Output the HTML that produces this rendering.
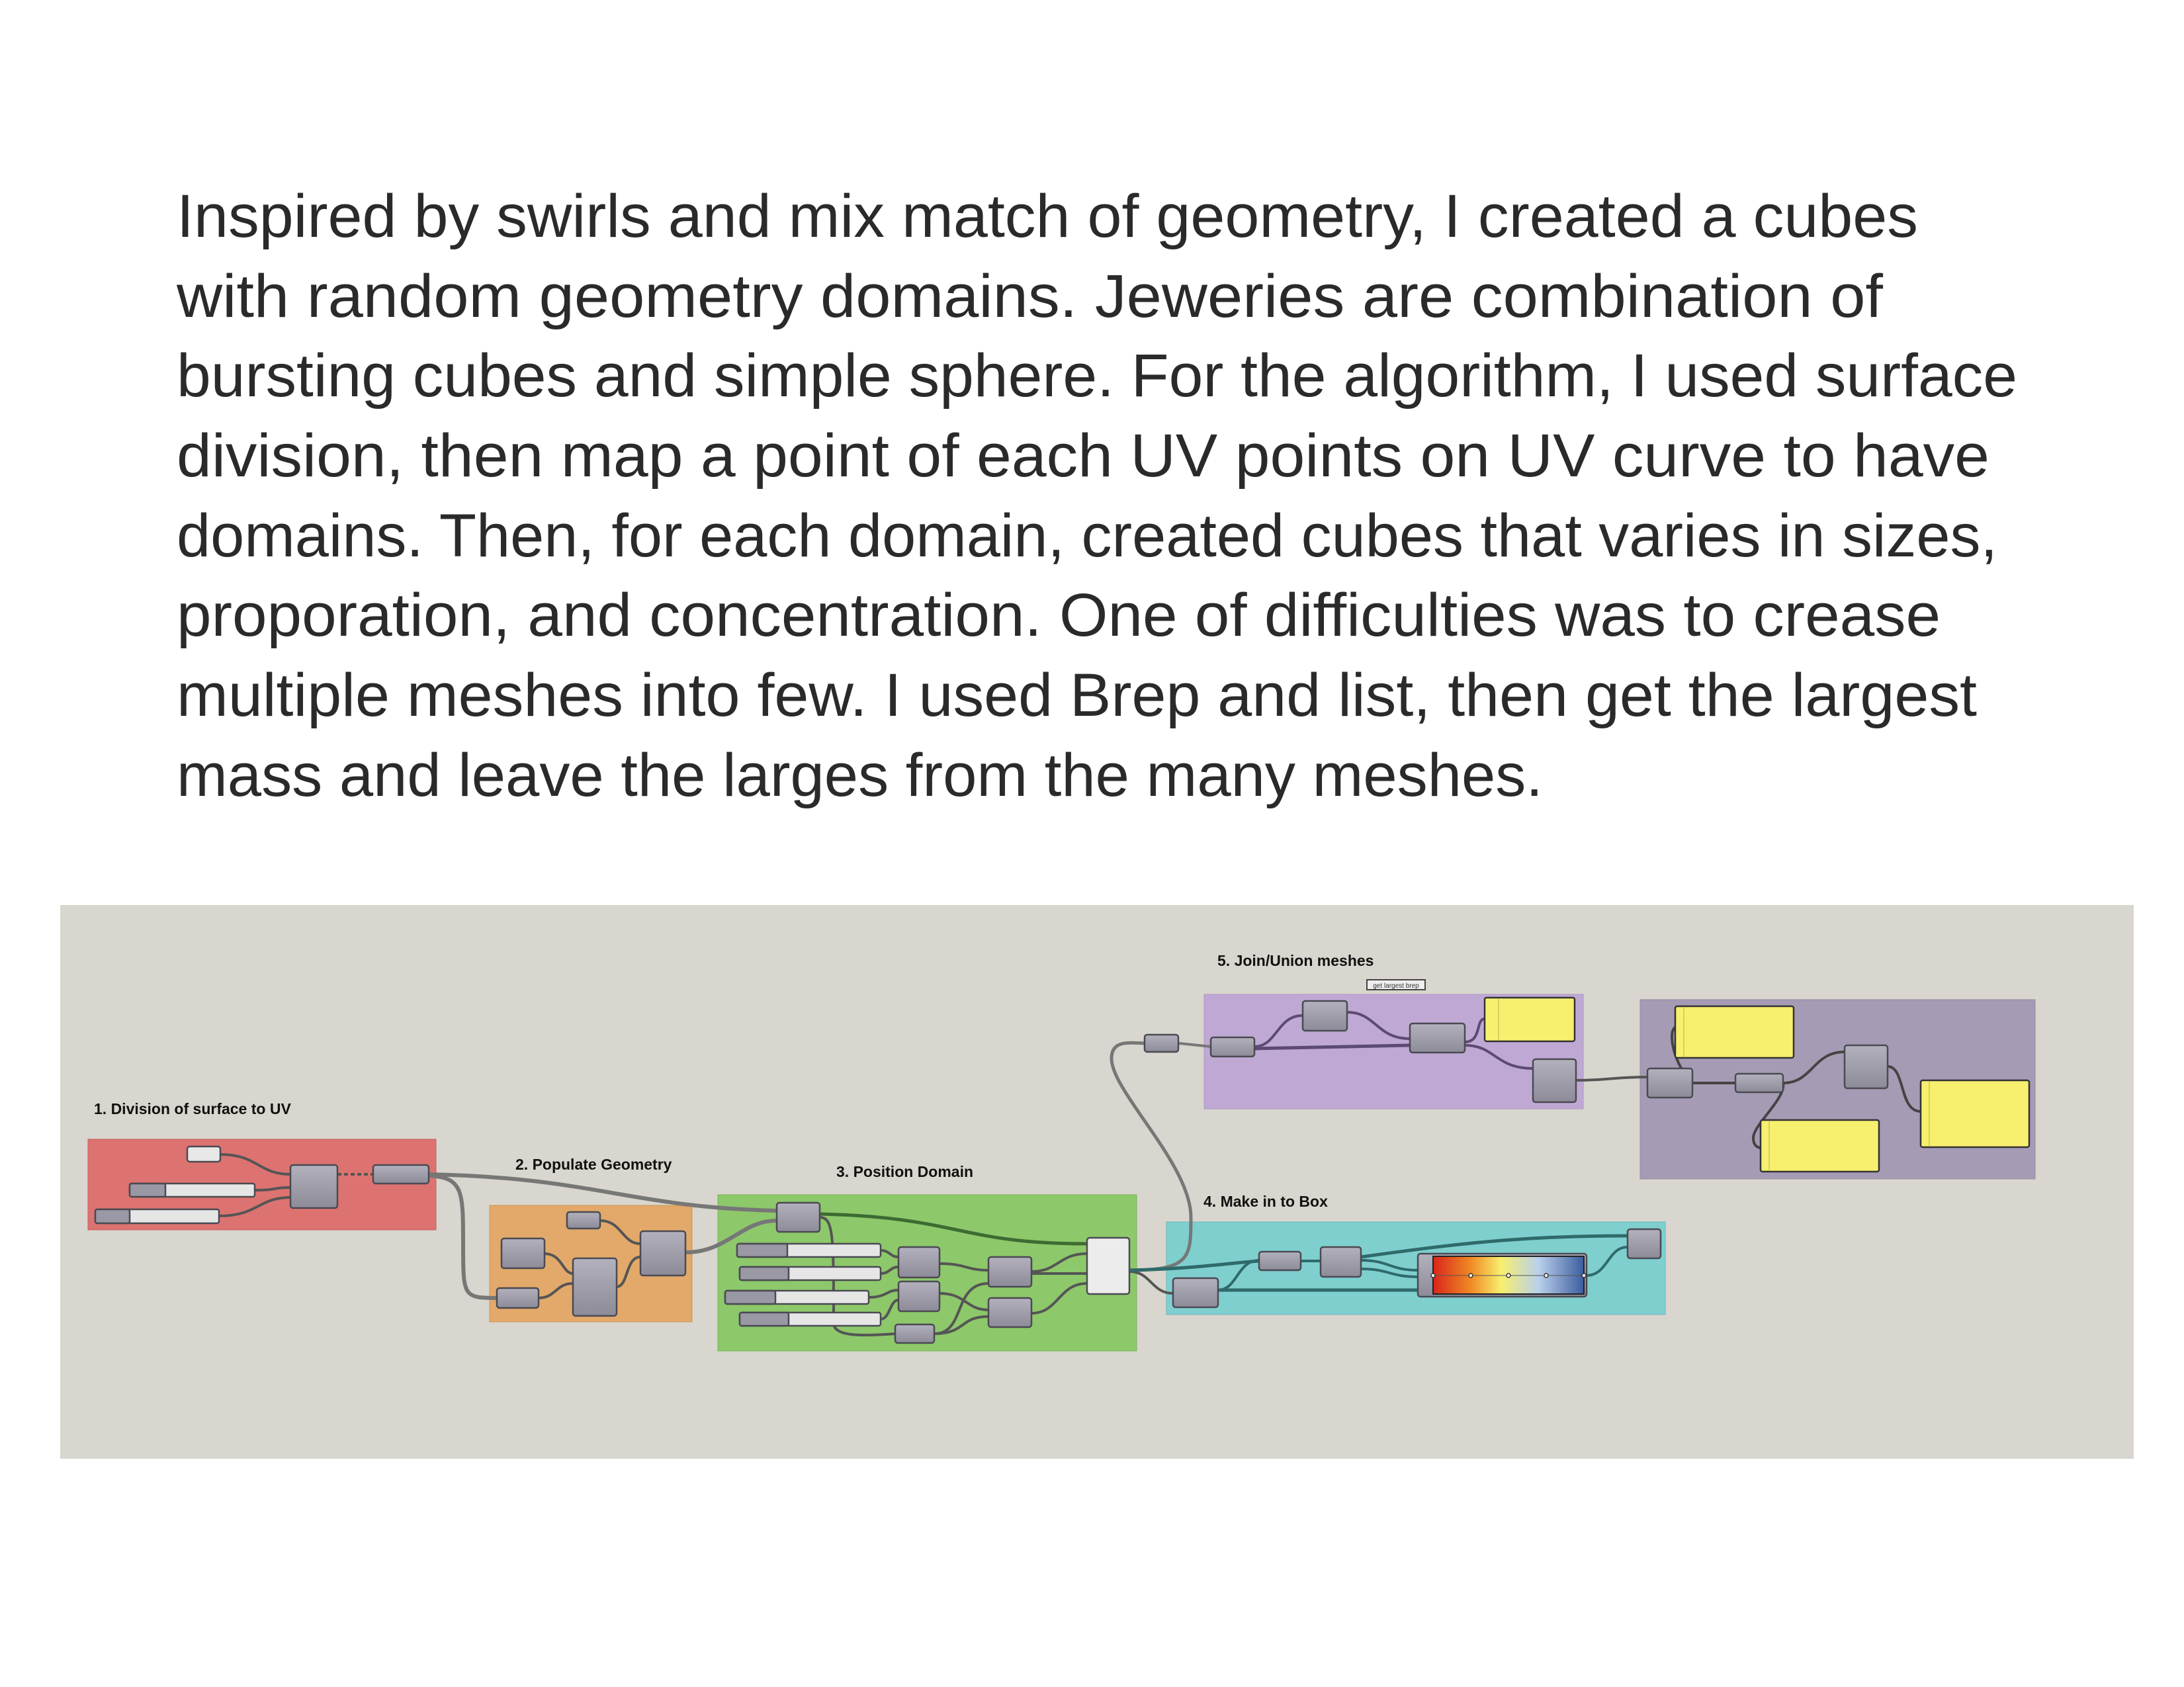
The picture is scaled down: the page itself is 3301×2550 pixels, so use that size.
<!DOCTYPE html>
<html><head><meta charset="utf-8"><style>
html,body{margin:0;padding:0;background:#fff;}
svg{display:block;}
</style></head><body>
<svg width="3301" height="2550" viewBox="0 0 3301 2550" xmlns="http://www.w3.org/2000/svg">
<defs>
<linearGradient id="ng" x1="0" y1="0" x2="0" y2="1"><stop offset="0" stop-color="#b3b1bd"/><stop offset="1" stop-color="#8d8b98"/></linearGradient>
<linearGradient id="hm" x1="0" y1="0" x2="1" y2="0"><stop offset="0" stop-color="#d9261c"/><stop offset="0.25" stop-color="#f08a24"/><stop offset="0.45" stop-color="#f7ef6e"/><stop offset="0.7" stop-color="#b9d0ec"/><stop offset="1" stop-color="#3c5c9e"/></linearGradient>
</defs>
<g font-family="Liberation Sans, sans-serif" font-size="92" font-weight="300" fill="#2a2a2a">
<text x="267" y="358" textLength="2632" lengthAdjust="spacingAndGlyphs">Inspired by swirls and mix match of geometry, I created a cubes</text>
<text x="267" y="479" textLength="2579" lengthAdjust="spacingAndGlyphs">with random geometry domains. Jeweries are combination of</text>
<text x="267" y="599" textLength="2782" lengthAdjust="spacingAndGlyphs">bursting cubes and simple sphere. For the algorithm, I used surface</text>
<text x="267" y="720" textLength="2740" lengthAdjust="spacingAndGlyphs">division, then map a point of each UV points on UV curve to have</text>
<text x="267" y="841" textLength="2752" lengthAdjust="spacingAndGlyphs">domains. Then, for each domain, created cubes that varies in sizes,</text>
<text x="267" y="961" textLength="2666" lengthAdjust="spacingAndGlyphs">proporation, and concentration. One of difficulties was to crease</text>
<text x="267" y="1082" textLength="2721" lengthAdjust="spacingAndGlyphs">multiple meshes into few. I used Brep and list, then get the largest</text>
<text x="267" y="1203" textLength="2065" lengthAdjust="spacingAndGlyphs">mass and leave the larges from the many meshes.</text>
</g>
<rect x="91" y="1368" width="3134" height="837" fill="#d8d6ce"/>
<rect x="133" y="1722" width="526" height="137" fill="#dc7370" stroke="#c9605e"/>
<rect x="740" y="1822" width="306" height="176" fill="#e2a96a" stroke="#cf9555"/>
<rect x="1085" y="1806" width="633" height="236" fill="#8dc86a" stroke="#78b558"/>
<rect x="1763" y="1847" width="754" height="140" fill="#7fcfcf" stroke="#6bbaba"/>
<rect x="1820" y="1503" width="573" height="173" fill="#bfa9d4" stroke="#ab96c0"/>
<rect x="2479" y="1511" width="597" height="271" fill="#a69bb5" stroke="#958aa4"/>
<g font-family="Liberation Sans, sans-serif" font-size="23" font-weight="bold" fill="#111">
<text x="142" y="1684">1. Division of surface to UV</text>
<text x="779" y="1768">2. Populate Geometry</text>
<text x="1264" y="1779">3. Position Domain</text>
<text x="1819" y="1824">4. Make in to Box</text>
<text x="1840" y="1460">5. Join/Union meshes</text>
</g>
<rect x="2066" y="1481" width="88" height="15" fill="#eee" stroke="#444" stroke-width="2"/>
<text x="2110" y="1493" font-family="Liberation Sans, sans-serif" font-size="10" text-anchor="middle" fill="#333">get largest brep</text>
<g fill="none" stroke="#555" stroke-width="4">
<path d="M333 1745 C390 1745 390 1775 439 1775"/>
<path d="M385 1799 C420 1799 410 1795 439 1795"/>
<path d="M331 1838 C390 1838 390 1810 439 1810"/>
<path d="M510 1775 L564 1775" stroke-dasharray="6 4"/>
<path d="M648 1775 C900 1780 950 1825 1174 1830" stroke="#777" stroke-width="6"/>
<path d="M648 1777 C700 1780 700 1800 700 1880 C700 1960 700 1962 751 1962" stroke="#777" stroke-width="6"/>
<path d="M907 1845 C940 1845 940 1880 968 1880"/>
<path d="M823 1895 C850 1895 850 1925 866 1925"/>
<path d="M814 1962 C840 1962 840 1940 866 1940"/>
<path d="M932 1945 C950 1945 945 1900 968 1900"/>
<path d="M1036 1893 C1100 1893 1120 1845 1174 1845" stroke="#777" stroke-width="6"/>
<path d="M1239 1835 C1450 1840 1450 1880 1643 1880" stroke="#3d6b32" stroke-width="5"/>
<path d="M1239 1840 C1260 1840 1260 1870 1260 2000 C1260 2020 1300 2020 1353 2016"/>
<path d="M1331 1890 C1345 1890 1345 1900 1358 1900"/>
<path d="M1331 1925 C1345 1925 1345 1915 1358 1915"/>
<path d="M1313 1961 C1340 1961 1340 1950 1358 1950"/>
<path d="M1331 1994 C1345 1994 1345 1965 1358 1965"/>
<path d="M1420 1910 C1460 1910 1460 1920 1494 1920"/>
<path d="M1420 1955 C1460 1955 1460 1980 1494 1980"/>
<path d="M1412 2016 C1460 2016 1440 1940 1494 1940"/>
<path d="M1412 2016 C1460 2016 1450 1990 1494 1990"/>
<path d="M1559 1922 C1600 1922 1600 1895 1643 1895"/>
<path d="M1559 1925 L1643 1925"/>
<path d="M1559 1985 C1600 1985 1600 1940 1643 1940"/>
<path d="M1707 1920 C1800 1920 1800 1900 1800 1840 C1800 1760 1680 1650 1680 1600 C1680 1570 1710 1577 1732 1577" stroke="#777" stroke-width="5"/>
<path d="M1707 1922 C1740 1922 1740 1955 1773 1955"/>
<path d="M1707 1920 C1800 1918 1850 1910 1903 1906" stroke="#2f6a6a" stroke-width="5"/>
<path d="M1841 1950 C1870 1950 1870 1905 1903 1905" stroke="#2f6a6a"/>
<path d="M1841 1950 L2143 1950" stroke="#2f6a6a" stroke-width="5"/>
<path d="M1966 1906 L1996 1906" stroke="#2f6a6a"/>
<path d="M2057 1900 C2200 1880 2300 1868 2460 1868" stroke="#2f6a6a" stroke-width="5"/>
<path d="M2057 1905 C2100 1905 2100 1920 2143 1920" stroke="#2f6a6a"/>
<path d="M2057 1918 C2100 1918 2100 1930 2143 1930" stroke="#2f6a6a"/>
<path d="M2398 1928 C2430 1928 2430 1885 2460 1885" stroke="#2f6a6a"/>
<path d="M1782 1577 L1830 1582" stroke="#777"/>
<path d="M1896 1582 C1930 1582 1930 1535 1969 1535" stroke="#5c4a72"/>
<path d="M1896 1585 L2131 1580" stroke="#5c4a72" stroke-width="5"/>
<path d="M2036 1530 C2080 1530 2080 1570 2131 1570" stroke="#5c4a72"/>
<path d="M2214 1575 C2240 1575 2230 1540 2244 1540" stroke="#5c4a72"/>
<path d="M2214 1580 C2260 1580 2260 1615 2317 1615" stroke="#5c4a72"/>
<path d="M2382 1633 C2430 1633 2440 1628 2490 1628" stroke="#555"/>
<path d="M2558 1637 L2623 1637" stroke="#444"/>
<path d="M2558 1637 C2530 1610 2520 1560 2532 1553" stroke="#444"/>
<path d="M2695 1637 C2740 1637 2740 1590 2788 1590" stroke="#444"/>
<path d="M2695 1637 C2700 1660 2650 1700 2650 1720 C2650 1735 2661 1735 2661 1735" stroke="#444"/>
<path d="M2853 1612 C2880 1612 2870 1680 2903 1680" stroke="#444"/>
</g>
<g fill="url(#ng)" stroke="#4a4a52" stroke-width="2.5">
<rect x="439" y="1761" width="71" height="65" rx="4"/>
<rect x="564" y="1761" width="84" height="28" rx="4"/>
<rect x="857" y="1832" width="50" height="25" rx="4"/>
<rect x="758" y="1872" width="65" height="45" rx="4"/>
<rect x="751" y="1947" width="63" height="30" rx="4"/>
<rect x="866" y="1902" width="66" height="87" rx="4"/>
<rect x="968" y="1861" width="68" height="67" rx="4"/>
<rect x="1174" y="1818" width="65" height="44" rx="4"/>
<rect x="1358" y="1885" width="62" height="46" rx="4"/>
<rect x="1358" y="1937" width="62" height="45" rx="4"/>
<rect x="1353" y="2002" width="59" height="28" rx="4"/>
<rect x="1494" y="1900" width="65" height="45" rx="4"/>
<rect x="1494" y="1962" width="65" height="44" rx="4"/>
<rect x="1730" y="1564" width="51" height="26" rx="4"/>
<rect x="1830" y="1568" width="66" height="29" rx="4"/>
<rect x="1969" y="1513" width="67" height="45" rx="4"/>
<rect x="2131" y="1547" width="83" height="44" rx="4"/>
<rect x="2317" y="1601" width="65" height="65" rx="4"/>
<rect x="2490" y="1615" width="68" height="44" rx="4"/>
<rect x="2623" y="1623" width="72" height="28" rx="4"/>
<rect x="2788" y="1580" width="65" height="65" rx="4"/>
<rect x="1773" y="1932" width="68" height="44" rx="4"/>
<rect x="1903" y="1892" width="63" height="28" rx="4"/>
<rect x="1996" y="1885" width="61" height="45" rx="4"/>
<rect x="2460" y="1858" width="50" height="44" rx="4"/>
<rect x="2143" y="1895" width="255" height="65" rx="4"/>
</g>
<g stroke="#4a4a52" stroke-width="2.5">
<rect x="283" y="1733" width="50" height="23" rx="4" fill="#e8e8e8"/>
<rect x="1643" y="1871" width="64" height="85" rx="4" fill="#ececec"/>
<rect x="196" y="1789" width="189" height="20" rx="3" fill="#e6e6e6"/><rect x="196" y="1789" width="54" height="20" rx="3" fill="#9a98a5"/>
<rect x="144" y="1828" width="187" height="21" rx="3" fill="#e6e6e6"/><rect x="144" y="1828" width="52" height="21" rx="3" fill="#9a98a5"/>
<rect x="1114" y="1880" width="217" height="20" rx="3" fill="#e6e6e6"/><rect x="1114" y="1880" width="76" height="20" rx="3" fill="#9a98a5"/>
<rect x="1118" y="1915" width="213" height="20" rx="3" fill="#e6e6e6"/><rect x="1118" y="1915" width="74" height="20" rx="3" fill="#9a98a5"/>
<rect x="1096" y="1951" width="217" height="20" rx="3" fill="#e6e6e6"/><rect x="1096" y="1951" width="76" height="20" rx="3" fill="#9a98a5"/>
<rect x="1118" y="1984" width="213" height="20" rx="3" fill="#e6e6e6"/><rect x="1118" y="1984" width="74" height="20" rx="3" fill="#9a98a5"/>
</g>
<rect x="2166" y="1899" width="228" height="57" fill="url(#hm)" stroke="#222" stroke-width="2"/>
<line x1="2166" y1="1928" x2="2394" y2="1928" stroke="#555" stroke-width="1"/>
<g fill="#fff" stroke="#333" stroke-width="1.5"><circle cx="2166" cy="1928" r="3"/><circle cx="2223" cy="1928" r="3"/><circle cx="2280" cy="1928" r="3"/><circle cx="2337" cy="1928" r="3"/><circle cx="2394" cy="1928" r="3"/></g>
<g fill="#f7ef6e" stroke="#333" stroke-width="2.5">
<rect x="2244" y="1508" width="136" height="66" rx="3"/>
<rect x="2532" y="1521" width="179" height="78" rx="3"/>
<rect x="2903" y="1633" width="164" height="101" rx="3"/>
<rect x="2661" y="1693" width="179" height="78" rx="3"/>
</g>
<g stroke="#d8d060" stroke-width="2"><line x1="2265" y1="1510" x2="2265" y2="1572"/><line x1="2545" y1="1523" x2="2545" y2="1597"/><line x1="2916" y1="1635" x2="2916" y2="1732"/><line x1="2674" y1="1695" x2="2674" y2="1769"/></g>
</svg>
</body></html>
